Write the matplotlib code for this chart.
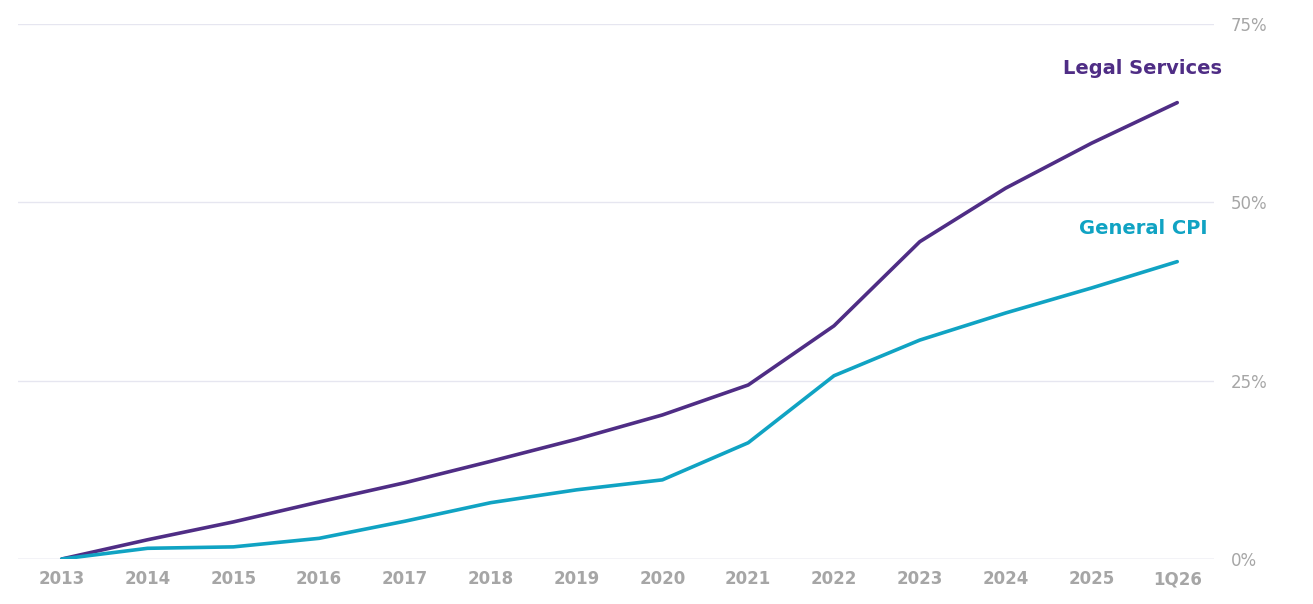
import matplotlib
matplotlib.use("Agg")
import matplotlib.pyplot as plt
from matplotlib.ticker import FuncFormatter

years = ["2013", "2014", "2015", "2016", "2017", "2018", "2019",
         "2020", "2021", "2022", "2023", "2024", "2025", "1Q26"]
legal_services = [0, 2.7, 5.2, 8.0, 10.7, 13.7, 16.8, 20.2, 24.4, 32.7, 44.5, 52.0, 58.3, 64.0]
general_cpi = [0, 1.5, 1.7, 2.9, 5.3, 7.9, 9.7, 11.1, 16.3, 25.7, 30.7, 34.5, 38.0, 41.7]

PURPLE = "#4f2d85"
TEAL = "#10a3c3"
GREY = "#a6a6a6"

fig = plt.figure(figsize=(13.13, 6.04), dpi=100)
ax = fig.add_axes([0.0137, 0.0745, 0.911, 0.8855])

x = list(range(len(years)))
ax.plot(x, legal_services, color=PURPLE, lw=2.6, solid_capstyle="round")
ax.plot(x, general_cpi, color=TEAL, lw=2.6, solid_capstyle="round")

ax.text(12.6, 67.5, "Legal Services", color=PURPLE, fontsize=14,
        fontweight="bold", ha="center", va="bottom")
ax.text(12.6, 45.0, "General CPI", color=TEAL, fontsize=14,
        fontweight="bold", ha="center", va="bottom")

ax.set_xlim(-0.51, 13.43)
ax.set_ylim(0, 75)
ax.set_xticks(x)
ax.set_xticklabels(years, fontsize=12, fontweight="bold", color=GREY)
ax.set_yticks([0, 25, 50, 75])
ax.yaxis.set_major_formatter(FuncFormatter(lambda v, p: f"{v:.0f}%"))
ax.yaxis.tick_right()
ax.tick_params(axis="y", length=0, labelsize=12, labelcolor=GREY, pad=12)
ax.tick_params(axis="x", length=0, pad=8)
ax.grid(axis="y", color="#e6e6f0", lw=1)
ax.set_axisbelow(True)
for s in ax.spines.values():
    s.set_visible(False)
ax.axhline(0, color="#d9d9e3", lw=1, zorder=0)

fig.savefig("out.png", dpi=100)
